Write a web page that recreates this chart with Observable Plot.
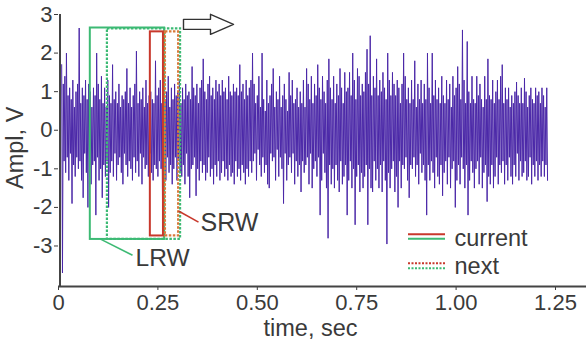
<!DOCTYPE html>
<html><head><meta charset="utf-8">
<script src="https://cdn.jsdelivr.net/npm/d3@7"></script>
<script src="https://cdn.jsdelivr.net/npm/@observablehq/plot@0.6"></script>
<style>
body{margin:0;background:#fff;}
#chart svg{display:block;}
</style></head><body><div id="chart"></div>
<script>
// sampled signal: first sample time and sample spacing (sec)
const startTime = 0.008;
const sampleStep = 0.002;
// amplitude samples (V)
const amplitude = [
 1.7,-3.7,1.2,-0.8,1.4,-1.1,2.0,-0.7,0.9,-1.3,1.1,-0.6,0.8,-1.9,1.3,-0.9,0.6,-1.2,1.0,-0.7,
 1.2,-1.0,2.65,-0.8,0.7,-1.3,1.1,-1.75,0.9,-0.6,1.3,-1.1,0.8,-2.0,1.2,-0.7,1.0,-1.4,0.6,-0.9,
 1.1,-0.8,0.9,-2.2,2.0,-0.7,1.2,-1.3,0.8,-1.0,1.4,-1.75,0.7,-0.9,1.1,-1.2,0.6,-0.8,1.3,-2.0,
 0.9,-1.1,0.7,-0.8,1.7,-1.2,0.8,-0.6,1.0,-1.3,0.7,-0.9,1.2,-0.7,0.6,-1.1,0.9,-1.4,0.8,-0.6,
 1.0,-0.9,1.6,-1.2,0.7,-0.8,1.1,-1.0,0.6,-1.3,0.9,-0.7,1.2,-1.1,2.05,-0.8,0.7,-1.2,1.0,-0.6,
 0.8,-1.4,1.1,-0.7,0.6,-1.0,1.3,-0.9,0.7,-1.2,0.9,-0.6,1.0,-1.1,0.8,-1.3,0.7,-0.9,1.8,-1.0,
 0.9,-1.2,1.1,-0.8,1.3,-1.0,0.7,-2.45,1.2,-0.9,0.8,-1.3,1.0,-0.7,1.4,-1.1,0.6,-0.9,1.1,-1.4,
 0.8,-1.0,1.2,-0.7,0.9,-1.3,1.0,-0.8,1.3,-1.1,0.7,-1.2,1.1,-0.9,0.8,-1.4,1.2,-0.6,0.9,-1.2,
 1.0,-1.75,0.8,-1.0,1.65,-0.9,1.1,-0.7,0.9,-1.7,1.2,-1.0,0.7,-1.3,1.1,-0.8,1.3,-1.1,1.85,-0.9,
 1.0,-1.3,0.8,-1.1,1.2,-0.7,1.4,-1.2,0.9,-1.0,1.1,-1.4,0.8,-0.9,1.3,-1.2,1.0,-0.8,1.2,-1.3,
 0.9,-1.1,1.3,-0.8,1.0,-1.2,1.1,-1.0,0.8,-1.3,1.4,-0.9,1.0,-1.2,0.9,-1.1,1.2,-1.4,1.0,-0.8,
 1.1,-1.2,0.9,-1.0,1.7,-1.3,1.0,-0.9,1.2,-1.1,0.8,-1.4,1.3,-1.0,0.9,-1.2,1.1,-0.8,1.3,-1.1,
 2.0,-0.8,1.2,-0.6,0.7,-1.3,0.9,-0.5,1.4,-0.9,0.6,-1.2,2.0,-0.7,0.8,-1.1,0.5,-0.9,1.3,-1.4,
 0.7,-1.5,0.9,-0.6,1.2,-0.8,1.6,-0.7,0.6,-1.3,1.0,-0.5,0.8,-1.2,1.4,-0.7,0.6,-1.0,0.9,-1.9,
 1.2,-0.6,0.8,-1.3,0.5,-0.9,1.5,-0.7,0.9,-1.1,1.3,-0.6,0.7,-1.4,0.8,-0.8,1.1,-1.2,0.6,-0.9,
 1.0,-1.6,0.7,-0.8,1.3,-1.1,0.6,-0.9,1.6,-0.7,1.2,-1.4,0.8,-0.6,1.4,-1.5,0.7,-1.0,1.2,-0.8,
 0.9,-1.2,1.7,-0.7,1.1,-2.2,0.8,-1.3,1.4,-0.6,1.0,-1.1,0.7,-1.5,1.3,-2.8,1.85,-0.9,1.1,-1.4,
 0.8,-1.0,1.4,-1.5,0.7,-0.9,1.2,-1.3,0.9,-1.6,1.6,-0.8,1.1,-1.4,0.7,-1.2,1.5,-0.9,1.0,-2.2,
 1.1,-1.3,1.5,-0.8,0.9,-1.5,2.0,-1.0,1.3,-2.45,0.8,-1.2,1.6,-0.9,1.4,-1.6,0.9,-1.1,1.2,-1.5,
 1.0,-1.2,1.5,-0.9,2.1,-2.45,1.2,-1.0,2.45,-1.5,0.9,-1.6,1.4,-0.8,1.1,-1.3,1.85,-1.0,0.9,-1.5,
 1.3,-0.9,1.0,-1.6,1.5,-0.8,1.1,-1.3,0.8,-2.95,2.0,-1.1,1.3,-1.5,0.9,-1.0,1.5,-0.8,1.2,-1.6,
 0.9,-1.2,1.3,-2.0,1.1,-0.8,0.7,-1.5,1.2,-0.9,2.0,-1.0,1.4,-0.7,0.8,-1.3,1.1,-1.75,0.7,-0.9,
 1.3,-1.0,0.8,-0.7,1.8,-1.2,0.6,-0.9,1.2,-1.4,0.8,-0.6,1.3,-1.1,0.7,-0.9,1.2,-1.3,0.8,-2.2,
 2.0,-0.9,1.1,-1.3,0.7,-0.8,2.0,-1.1,0.9,-1.5,1.3,-0.7,0.8,-1.2,1.1,-1.4,0.7,-0.9,1.4,-1.7,
 0.9,-1.1,0.7,-0.8,1.3,-1.4,0.8,-0.7,1.2,-1.5,0.6,-1.0,1.4,-0.8,0.9,-2.0,1.1,-1.3,1.65,-0.9,
 1.2,-1.4,0.8,-0.7,2.6,-1.0,1.3,-1.5,0.7,-0.9,2.3,-2.2,1.0,-1.3,0.7,-0.8,1.4,-1.1,0.8,-1.5,
 0.7,-1.0,1.4,-0.8,0.9,-1.4,1.2,-0.7,0.8,-1.5,0.6,-1.1,1.4,-0.9,0.8,-1.85,1.85,-1.2,0.9,-1.4,
 0.8,-0.9,1.3,-1.5,0.7,-1.2,1.0,-0.7,1.3,-1.4,0.8,-0.9,1.4,-1.1,1.7,-0.8,0.7,-1.4,1.1,-0.9,
 0.8,-1.3,1.1,-0.7,0.6,-1.2,0.9,-1.4,0.7,-0.9,1.0,-1.2,1.25,-0.6,0.9,-1.3,0.7,-0.8,1.1,-1.2,
 0.7,-1.1,1.35,-0.8,1.0,-1.3,0.6,-1.2,0.9,-0.7,1.1,-1.4,0.8,-0.9,0.7,-1.2,1.1,-0.8,0.9,-1.3,
 1.0,-0.9,0.7,-1.2,1.1,-0.8,0.9,-1.2,0.6,-0.9,1.1,-1.3
];

// analysis windows
const windowNames  = ["LRW current", "LRW next", "SRW current", "SRW next"];
const windowStart  = [0.080, 0.123, 0.231, 0.269];
const windowEnd    = [0.267, 0.307, 0.264, 0.302];
const windowTop    = [2.65, 2.63, 2.55, 2.55];
const windowBottom = [-2.83, -2.83, -2.74, -2.74];

// axis ticks
const xTicks = [0, 0.25, 0.5, 0.75, 1.0, 1.25];
const xTickLabels = ["0", "0.25", "0.50", "0.75", "1.00", "1.25"];
const yTicks = [-3, -2, -1, 0, 1, 2, 3];

// annotation texts
const windowLabels = ["LRW", "SRW"];
const legendLabels = ["current", "next"];
const xTitle = "time, sec";
const yTitle = "Ampl, V";

const GREEN = "#3dba74", RED = "#c8382c", ORANGE = "#d9793a", INK = "#3a3a3a";
const windowColor = [GREEN, GREEN, RED, ORANGE];
const windowDash  = [null, "2.5,1.5", null, "2.5,1.5"];

const signal = amplitude.map((v, i) => ({t: startTime + i * sampleStep, v}));
const windows = windowNames.map((name, i) => ({
  name, x1: windowStart[i], x2: windowEnd[i], y1: windowBottom[i], y2: windowTop[i],
  color: windowColor[i], dash: windowDash[i]
}));

// geometry helpers (data units)
const X0 = 58, PX = 397.6, Y0 = 129.5, PY = 38.44;
const tx = px => (px - X0) / PX;
const vy = py => (Y0 - py) / PY;

const arrowShape = [[183,19],[210,19],[210,14],[233,24],[210,34],[210,29],[183,29],[183,19]]
  .map(([a,b]) => ({x: tx(a), y: vy(b)}));

const font = "Liberation Sans, Arial, Helvetica, sans-serif";
const plot = Plot.plot({
  width: 586, height: 345,
  marginLeft: 58, marginRight: 0, marginTop: 14, marginBottom: 59,
  style: {fontFamily: font, fontSize: "22px", color: INK, background: "#fff", overflow: "visible"},
  x: {domain: [0, 528 / PX]},
  y: {domain: [-4.05, 3.0]},
  marks: [
    Plot.line(signal, {x: "t", y: "v", stroke: "#4b28a8", strokeWidth: 1}),
    ...windows.filter(w => w.dash === null).map(w =>
      Plot.rect([w], {x1: "x1", x2: "x2", y1: "y1", y2: "y2", fill: "none", stroke: w.color, strokeWidth: 2})),
    ...windows.filter(w => w.dash !== null).map(w =>
      Plot.rect([w], {x1: "x1", x2: "x2", y1: "y1", y2: "y2", fill: "none", stroke: w.color, strokeWidth: 2.2, strokeDasharray: w.dash})),
    // connectors
    Plot.link([{x1: tx(100), y1: vy(238), x2: tx(132), y2: vy(254)}], {x1: "x1", y1: "y1", x2: "x2", y2: "y2", stroke: GREEN, strokeWidth: 1.6}),
    Plot.link([{x1: tx(178), y1: vy(210), x2: tx(198), y2: vy(221)}], {x1: "x1", y1: "y1", x2: "x2", y2: "y2", stroke: RED, strokeWidth: 1.6}),
    Plot.text([windowLabels[0]], {x: tx(162), y: vy(257), text: d => d, fontSize: 24.5, fill: INK}),
    Plot.text([windowLabels[1]], {x: tx(229), y: vy(222), text: d => d, fontSize: 25, fill: INK}),
    // arrow
    Plot.line(arrowShape, {x: "x", y: "y", stroke: "#333", strokeWidth: 1.4, fill: "#fff"}),
    // legend
    Plot.ruleY([vy(233)], {x1: tx(408), x2: tx(445), stroke: RED, strokeWidth: 2}),
    Plot.ruleY([vy(237.5)], {x1: tx(408), x2: tx(445), stroke: GREEN, strokeWidth: 2}),
    Plot.ruleY([vy(262)], {x1: tx(408), x2: tx(445), stroke: RED, strokeWidth: 2, strokeDasharray: "2,1.5"}),
    Plot.ruleY([vy(267)], {x1: tx(408), x2: tx(445), stroke: GREEN, strokeWidth: 2, strokeDasharray: "2,1.5"}),
    Plot.text([legendLabels[0]], {x: tx(454), y: vy(237), text: d => d, textAnchor: "start", fontSize: 23.5, fill: INK}),
    Plot.text([legendLabels[1]], {x: tx(454), y: vy(265), text: d => d, textAnchor: "start", fontSize: 23.5, fill: INK}),
    // axes
    Plot.axisX(xTicks, {tickFormat: (d) => xTickLabels[xTicks.indexOf(d)], tickSize: 4, tickPadding: 4, fontSize: 22, label: null, stroke: INK}),
    Plot.axisY(yTicks, {tickFormat: d => String(d), tickSize: 4, tickPadding: 2, fontSize: 22, label: null, stroke: INK}),
    Plot.ruleY([-4.05], {stroke: "#444", strokeWidth: 2}),
    Plot.ruleX([tx(59.5)], {stroke: "#444", strokeWidth: 2}),
    Plot.text([xTitle], {x: tx(310), y: vy(327), text: d => d, fontSize: 23.5, fill: INK}),
    Plot.text([yTitle], {x: tx(15), y: vy(147), text: d => d, fontSize: 23.5, fill: INK, rotate: -90})
  ]
});
document.getElementById("chart").appendChild(plot);
</script></body></html>
